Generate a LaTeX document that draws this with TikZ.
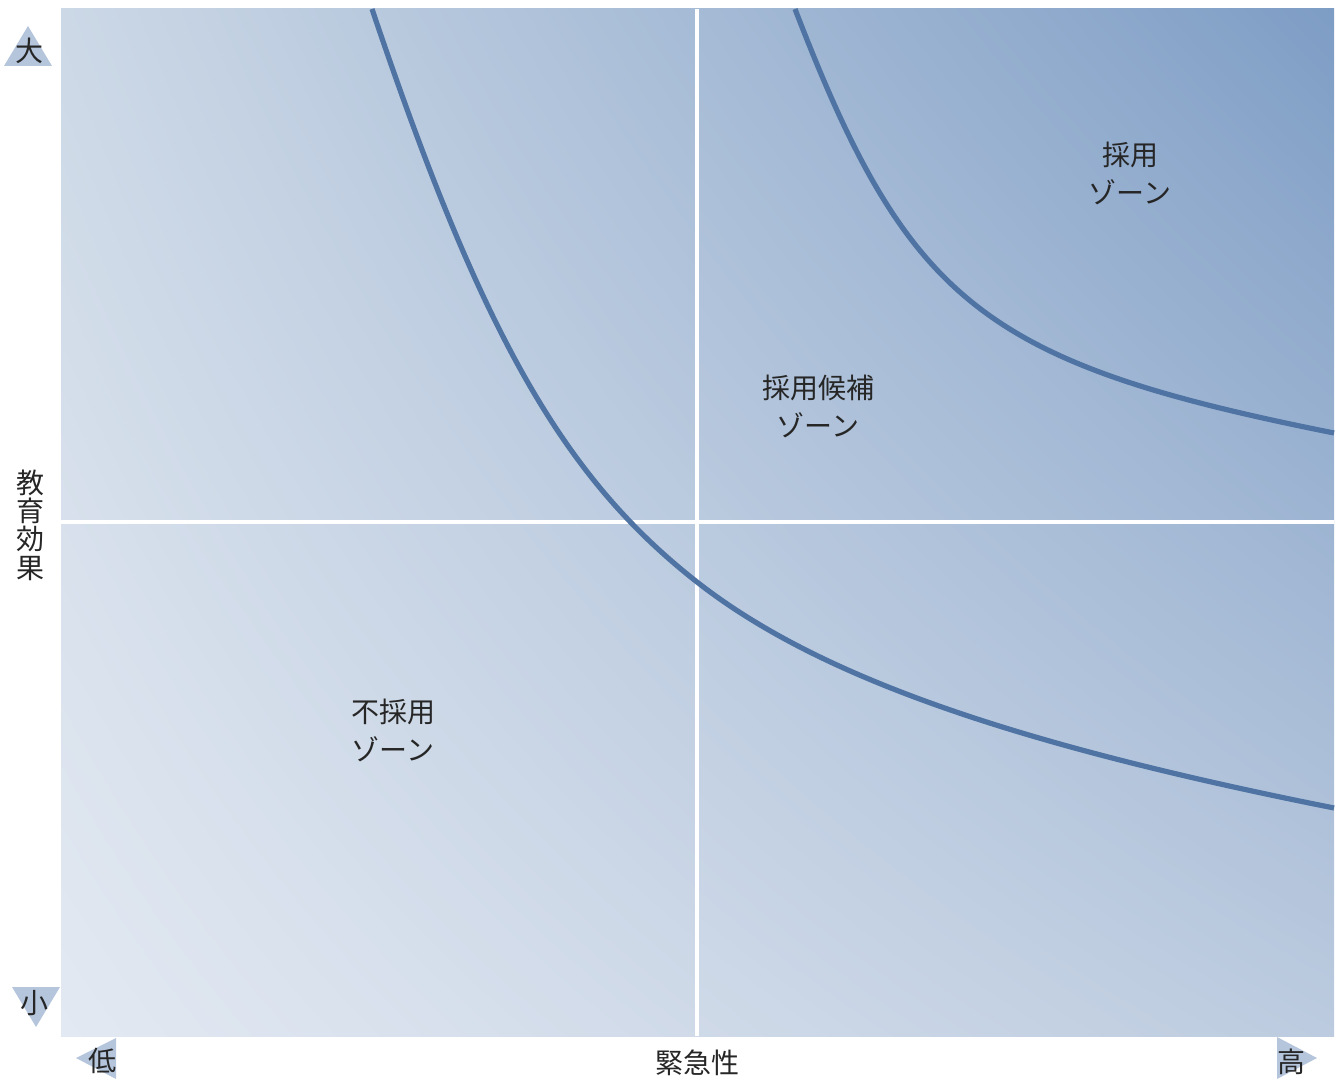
\documentclass[tikz,border=0pt]{standalone}
\usepackage{fontspec}
\usetikzlibrary{shadings}
\newfontfamily\jp{Noto Sans CJK JP}
\definecolor{ctl}{HTML}{CCD8E6}
\definecolor{ctr}{HTML}{7E9DC5}
\definecolor{cbl}{HTML}{E3E9F2}
\definecolor{cbr}{HTML}{BCCBDF}
\definecolor{curve}{HTML}{4F73A3}
\definecolor{tri}{HTML}{B4C5DC}
\begin{document}
\begin{tikzpicture}[x=0.5pt,y=-0.5pt,
  lbl/.style={font=\jp\fontsize{14}{19}\selectfont, align=center, inner sep=0pt, text=black!85},
  trilbl/.style={font=\jp\fontsize{14}{16}\selectfont, inner sep=0pt, text=black!85},
  tri/.style={fill=tri, draw=none},
  divider/.style={white, line width=2pt},
  zone/.style={curve, line width=2.6pt}]
\useasboundingbox (0,0) rectangle (1340,1079);
\shade[upper left=ctl, upper right=ctr, lower left=cbl, lower right=cbr] (61,9) rectangle (1334,1036);
\coordinate (vt) at (697,9); \coordinate (vb) at (697,1036);
\coordinate (hl) at (61,522); \coordinate (hr) at (1334,522);
\draw[divider] (vt) -- (vb);
\draw[divider] (hl) -- (hr);
% lower curve
\coordinate (a0) at (372,9);
\coordinate (a1) at (697,582);
\coordinate (a2) at (1334,808);
\draw[zone] (a0) .. controls (481.5,333.8) and (562.8,477) .. (a1)
                 .. controls (816,675.1) and (1007.1,742.9) .. (a2);
% upper curve
\coordinate (b0) at (795,9);
\coordinate (b1) at (1334,433);
\draw[zone] (b0) .. controls (908.3,303.6) and (983.8,363) .. (b1);
% triangles
\fill[tri] (28,26) -- (52,66) -- (4,66) -- cycle;
\fill[tri] (12,987) -- (60,987) -- (36,1027) -- cycle;
\fill[tri] (76,1058) -- (116,1038) -- (116,1079) -- cycle;
\fill[tri] (1317,1058) -- (1277,1037) -- (1277,1079) -- cycle;
\node[trilbl] (big) at (30,51) {大};
\node[trilbl] (small) at (34,1003) {小};
\node[trilbl] (low) at (102,1061) {低};
\node[trilbl] (high) at (1291,1062) {高};
\node[lbl] (adopt) at (1130,173) {採用\\ゾーン};
\node[lbl] (cand) at (818,406) {採用候補\\ゾーン};
\node[lbl] (reject) at (393,730) {不採用\\ゾーン};
\node[lbl, font=\jp\fontsize{14}{14.2}\selectfont] (yaxis) at (31,525) {教\\育\\効\\果};
\node[lbl] (xaxis) at (697,1063) {緊急性};
\end{tikzpicture}
\end{document}
